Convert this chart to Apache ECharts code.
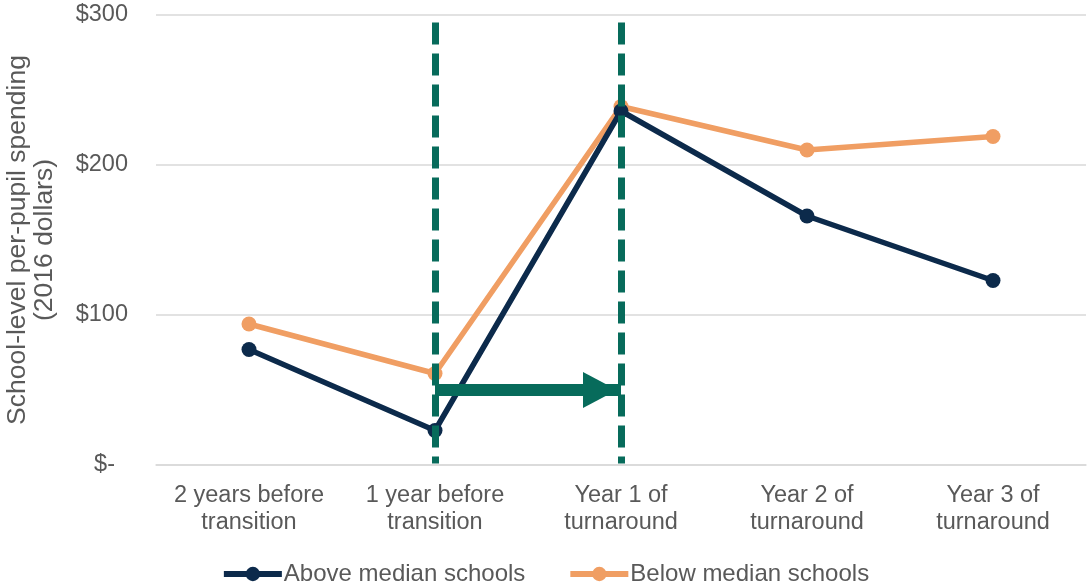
<!DOCTYPE html>
<html>
<head>
<meta charset="utf-8">
<script src="https://cdn.jsdelivr.net/npm/echarts@6/dist/echarts.min.js"></script>
<style>
  html, body { margin: 0; padding: 0; background: #fff; }
  #chart { width: 1090px; height: 587px; }
</style>
</head>
<body>
<div id="chart"></div>
<script>
// Periods around the turnaround transition
const categories = [
  '2 years before\ntransition',
  '1 year before\ntransition',
  'Year 1 of\nturnaround',
  'Year 2 of\nturnaround',
  'Year 3 of\nturnaround'
];
// School-level per-pupil spending (2016 dollars)
const aboveMedian = [77, 23, 236, 166, 123];
const belowMedian = [94, 61, 239, 210, 219];
// Y axis ticks
const yTicks = [0, 100, 200, 300];
// Transition window: the two periods marked with dashed lines, and the arrow level
const transitionStart = 1;
const transitionEnd = 2;
const arrowLevel = 50;
const dashTop = 295;
const dashBottom = 1;

const FONT = '"Liberation Sans", Arial, sans-serif';
const TEXT = '#595959';
const GREEN = '#076B5B';
const NAVY = '#0C2A4B';
const ORANGE = '#F09E63';

const chart = echarts.init(document.getElementById('chart'), null, { renderer: 'canvas' });

chart.setOption({
  animation: false,
  textStyle: { fontFamily: FONT },
  grid: { left: 156, right: 4, top: 15, bottom: 122, outerBoundsMode: 'none', containLabel: false },
  legend: {
    top: 557,
    left: 'center',
    itemWidth: 58,
    itemHeight: 18,
    itemGap: 42,
    lineStyle: { width: 6 },
    textStyle: { fontFamily: FONT, fontSize: 24, color: TEXT, padding: [0, 0, 0, -3] },
    data: ['Above median schools', 'Below median schools']
  },
  xAxis: {
    type: 'category',
    data: categories,
    boundaryGap: true,
    axisLine: { show: true, lineStyle: { color: '#D9D9D9', width: 1.5 } },
    axisTick: { show: false },
    axisLabel: {
      color: TEXT, fontFamily: FONT, fontSize: 23.5, lineHeight: 27, margin: 17,
      interval: 0
    }
  },
  yAxis: {
    type: 'value',
    min: yTicks[0],
    max: yTicks[yTicks.length - 1],
    interval: 100,
    name: 'School-level per-pupil spending\n(2016 dollars)',
    nameLocation: 'middle',
    nameGap: 98,
    nameTextStyle: { color: TEXT, fontFamily: FONT, fontSize: 26.5, lineHeight: 27 },
    axisLine: { show: false },
    axisTick: { show: false },
    splitLine: { lineStyle: { color: '#D9D9D9', width: 1.5 } },
    axisLabel: {
      color: TEXT, fontFamily: FONT, fontSize: 23.5, margin: 28,
      formatter: v => v === 0 ? '{z|$-}' : '$' + v,
      rich: { z: { color: TEXT, fontFamily: FONT, fontSize: 23.5, padding: [0, 13, 0, 0] } }
    }
  },
  series: [
    {
      name: 'Above median schools',
      type: 'line',
      data: aboveMedian,
      color: NAVY,
      symbol: 'circle',
      symbolSize: 15,
      lineStyle: { width: 5.5, color: NAVY },
      itemStyle: { color: NAVY },
      z: 4
    },
    {
      name: 'Below median schools',
      type: 'line',
      data: belowMedian,
      color: ORANGE,
      symbol: 'circle',
      symbolSize: 15,
      lineStyle: { width: 5.5, color: ORANGE },
      itemStyle: { color: ORANGE },
      z: 3
    },
    {
      // Transition window markers: dashed verticals and the arrow between them
      name: 'transition',
      type: 'line',
      data: [],
      z: 5,
      markLine: {
        silent: true,
        animation: false,
        label: { show: false },
        emphasis: { disabled: true },
        data: [
          [
            { coord: [transitionStart, dashTop], symbol: 'none', lineStyle: { color: GREEN, width: 7, type: [22, 9] } },
            { coord: [transitionStart, dashBottom], symbol: 'none' }
          ],
          [
            { coord: [transitionEnd, dashTop], symbol: 'none', lineStyle: { color: GREEN, width: 7, type: [22, 9] } },
            { coord: [transitionEnd, dashBottom], symbol: 'none' }
          ],
          [
            { coord: [transitionStart, arrowLevel], symbol: 'none', lineStyle: { color: GREEN, width: 12, type: 'solid' } },
            { coord: [transitionEnd, arrowLevel], symbol: 'triangle', symbolSize: [36, 34], symbolOffset: [0, 21] }
          ]
        ]
      }
    }
  ]
});
</script>
</body>
</html>
